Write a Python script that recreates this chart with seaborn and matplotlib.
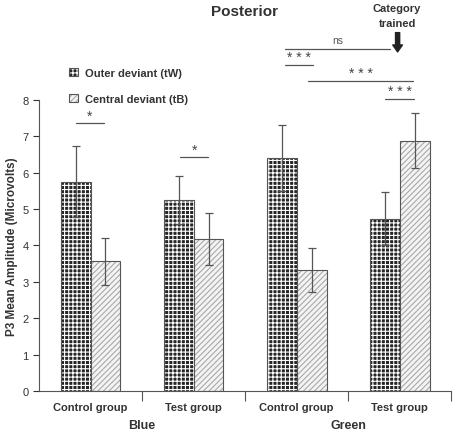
import matplotlib
matplotlib.use("Agg")
import matplotlib.pyplot as plt
from matplotlib.colors import to_rgba
from matplotlib.patches import Patch
import numpy as np
import pandas as pd
import seaborn as sns

# data
groups = ["Blue Control", "Blue Test", "Green Control", "Green Test"]
group_labels = ["Control group", "Test group", "Control group", "Test group"]
outer_mean = [5.75, 5.24, 6.40, 4.73]
outer_err = [0.97, 0.66, 0.90, 0.73]
central_mean = [3.56, 4.18, 3.32, 6.88]
central_err = [0.65, 0.71, 0.61, 0.76]
deviants = ["Outer deviant (tW)", "Central deviant (tB)"]

df = pd.DataFrame({
    "group": groups * 2,
    "deviant": [deviants[0]] * 4 + [deviants[1]] * 4,
    "amp": outer_mean + central_mean,
})

sns.set_style("ticks")
plt.rcParams["font.family"] = ["Liberation Sans", "DejaVu Sans"]
plt.rcParams["hatch.linewidth"] = 0.8

fig = plt.figure(figsize=(4.57, 4.35), dpi=100)
ax = fig.add_axes([0.0853, 0.099, 0.902, 0.669])

sns.barplot(data=df, x="group", y="amp", hue="deviant", order=groups,
            hue_order=deviants, width=0.58, errorbar=None, legend=False, ax=ax)

styles = [
    dict(face="#262626", hatch="++++", hcol="white"),
    dict(face="#f4f4f4", hatch="//////", hcol="#a8a8a8"),
]
errs = [outer_err, central_err]
for cont, st, err in zip(ax.containers, styles, errs):
    xs = []
    for p in cont.patches:
        p.set_facecolor(st["face"])
        p.set_edgecolor("#555555")
        p.set_linewidth(0.8)
        p.set_hatch(st["hatch"])
        p._hatch_color = to_rgba(st["hcol"])
        xs.append(p.get_x() + p.get_width() / 2)
    heights = [p.get_height() for p in cont.patches]
    ax.errorbar(xs, heights, yerr=err, fmt="none", ecolor="#555555",
                elinewidth=0.9, capsize=3, capthick=0.9, zorder=5)

ax.set_ylim(0, 8)
ax.set_xlim(-0.5, 3.5)
ax.set_yticks(range(0, 9))
ax.tick_params(axis="y", labelsize=8, colors="#333333", length=4, width=0.8)
ax.set_xticks(range(4))
ax.set_xticklabels(group_labels, fontsize=8, fontweight="bold", color="#333333")
ax.tick_params(axis="x", which="major", length=0, pad=8)
ax.set_xticks([0.5, 1.5, 2.5, 3.5], minor=True)
ax.tick_params(axis="x", which="minor", length=7, width=0.8, color="#555555")
ax.set_xlabel("")
ax.set_ylabel("P3 Mean Amplitude (Microvolts)", fontsize=8.5,
              fontweight="bold", color="#333333", labelpad=3)
for s in ["left", "bottom"]:
    ax.spines[s].set_color("#555555")
    ax.spines[s].set_linewidth(0.8)
sns.despine(ax=ax)

# colour group labels
for x, lab in [(0.5, "Blue"), (2.5, "Green")]:
    ax.text(x, -0.95, lab, ha="center", va="center", fontsize=9,
            fontweight="bold", color="#333333", clip_on=False)

# significance markers
sig = [
    (-0.14, 0.13, 7.36, "*"),
    (0.87, 1.14, 6.43, "*"),
    (1.89, 2.91, 9.40, "ns"),
    (1.89, 2.16, 8.96, "* * *"),
    (2.11, 3.13, 8.52, "* * *"),
    (2.86, 3.14, 8.02, "* * *"),
]
for x0, x1, y, lab in sig:
    ax.plot([x0, x1], [y, y], color="#555555", lw=0.9, clip_on=False)
    if lab == "ns":
        ax.text((x0 + x1) / 2, y + 0.12, lab, ha="center", va="bottom",
                fontsize=7.5, color="#555555", clip_on=False)
    else:
        ax.text((x0 + x1) / 2, y + 0.02, lab, ha="center", va="bottom",
                fontsize=10, color="#444444", clip_on=False)

fig.text(0.536, 0.972, "Posterior", ha="center", va="center", fontsize=11,
         fontweight="bold", color="#333333")
fig.text(0.869, 0.962, "Category\ntrained", ha="center", va="center",
         fontsize=8, fontweight="bold", color="#333333", linespacing=1.7)
ax.annotate("", xy=(2.98, 9.32), xytext=(2.98, 9.85),
            arrowprops=dict(arrowstyle="simple,head_width=0.7,head_length=0.5,tail_width=0.3",
                            color="#222222", shrinkA=0, shrinkB=0),
            annotation_clip=False)

handles = []
for st in styles:
    h = Patch(facecolor=st["face"], edgecolor="#555555", hatch=st["hatch"], lw=0.8)
    h._hatch_color = to_rgba(st["hcol"])
    handles.append(h)
leg = fig.legend(handles, deviants, loc="upper left", bbox_to_anchor=(0.13, 0.865),
                 frameon=False, handlelength=0.8, handleheight=0.8,
                 labelspacing=1.45, handletextpad=0.6,
                 prop=dict(size=8, weight="bold"))
for t in leg.get_texts():
    t.set_color("#333333")

fig.savefig("out.png", dpi=100)
